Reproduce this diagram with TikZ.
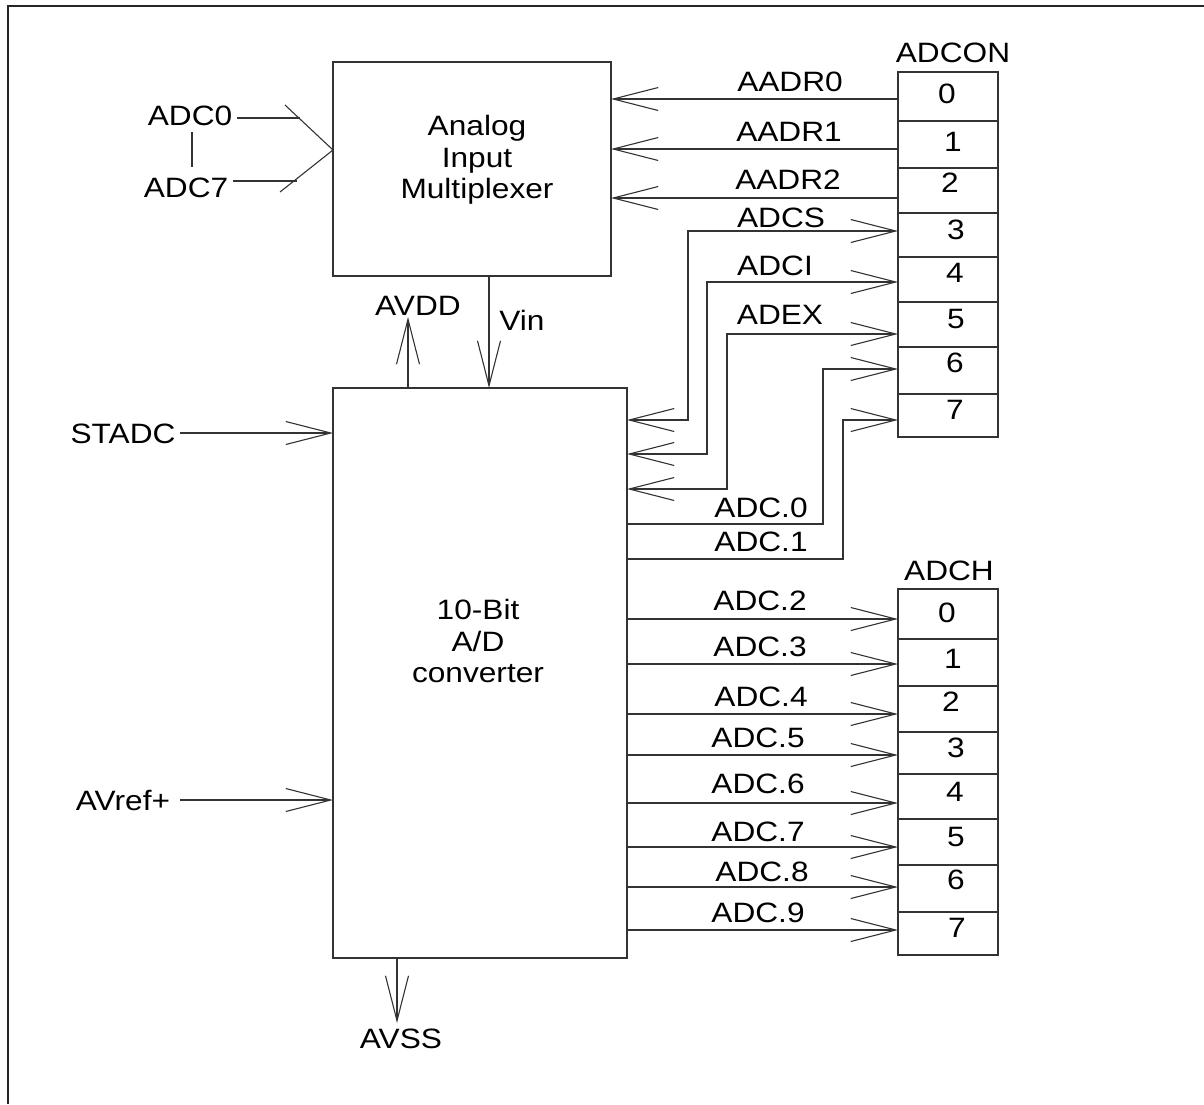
\documentclass[tikz,border=0pt]{standalone}
\usepackage{fontspec}
\setmainfont{Liberation Sans}[FakeStretch=1.13]
\usetikzlibrary{arrows.meta}

\begin{document}
\begin{tikzpicture}[
			x=1pt, y=-1pt,
			font=\fontsize{28}{31.5}\selectfont,
			every node/.style={inner sep=0pt, outer sep=0pt},
			block/.style={draw=black!80, line width=1.1pt},
			reg/.style={draw=black!80, line width=1.1pt, minimum width=100pt},
			lbl/.style={text height=20pt, text depth=0pt},
			wire/.style={draw=black!80, line width=1.1pt},
			arrow/.style={wire, -{Straight Barb[length=45pt, width=23pt]}},
			biarrow/.style={wire, {Straight Barb[length=45pt, width=23pt]}-{Straight Barb[length=45pt, width=23pt]}},
			frame/.style={draw=black!85, line width=1.6pt}
			]
			\useasboundingbox (0,0) rectangle (1204,1104);
			\draw[frame] (1204,6) -- (8,6) -- (8,1104);
			
			% blocks
			\node[block, minimum width=278pt, minimum height=214pt] (mux) at (472,169) {};
			\node[block, minimum width=294pt, minimum height=570pt] (adc) at (480,673) {};
			\node[align=center] (muxtxt) at (477,160) {Analog\\Input\\Multiplexer};
			\node[align=center] (adctxt) at (478,641) {10-Bit\\A/D\\converter};
			
			% registers
			\node[reg, minimum height=365pt] (adcon) at (948,254.5) {};
			\node[reg, minimum height=366pt] (adch) at (948,772) {};
			\node[lbl] (adconlbl) at (953,52) {ADCON};
			\node[lbl] (adchlbl) at (949,570) {ADCH};
			
			\foreach \y in {121,168,213,257,302,347,394}
				\draw[wire] (adcon.west |- 0,\y) -- (adcon.east |- 0,\y);
			\foreach \y in {639,686,732,774,819,865,912}
				\draw[wire] (adch.west |- 0,\y) -- (adch.east |- 0,\y);
			
			\foreach \d/\x/\y in {0/947/93, 1/953/141, 2/950/182, 3/956/229, 4/955/272, 5/956/318, 6/955/362, 7/955/409}
				\node[lbl] (conbit\d) at (\x,\y) {\d};
			\foreach \d/\x/\y in {0/947/612, 1/953/658, 2/951/701, 3/956/747, 4/955/791, 5/956/836, 6/956/879, 7/957/927}
				\node[lbl] (chbit\d) at (\x,\y) {\d};
			
			\foreach \b/\y in {0/99, 1/149, 2/198, 3/231, 4/282, 5/334, 6/369, 7/420}
				\coordinate (con\b) at (adcon.west |- 0,\y);
			\foreach \b/\y in {0/619, 1/664, 2/714, 3/755, 4/803, 5/847, 6/887, 7/930}
				\coordinate (ch\b) at (adch.west |- 0,\y);
			
			% mux select lines
			\node[lbl] (lblaadr0) at (790,81) {AADR0};
			\node[lbl] (lblaadr1) at (789,131) {AADR1};
			\node[lbl] (lblaadr2) at (788,179) {AADR2};
			\draw[arrow] (con0) -- (mux.east |- con0);
			\draw[arrow] (con1) -- (mux.east |- con1);
			\draw[arrow] (con2) -- (mux.east |- con2);
			
			% control bits
			\coordinate (cs) at (adc.east |- 0,420);
			\coordinate (ci) at (adc.east |- 0,454);
			\coordinate (ex) at (adc.east |- 0,489);
			\coordinate (d0) at (adc.east |- 0,524);
			\coordinate (d1) at (adc.east |- 0,559);
			\node[lbl] (lbladcs) at (781,217) {ADCS};
			\node[lbl] (lbladci) at (775,265) {ADCI};
			\node[lbl] (lbladex) at (780,314) {ADEX};
			\node[lbl] (lbladc0) at (761,507) {ADC.0};
			\node[lbl] (lbladc1) at (761,541) {ADC.1};
			\draw[biarrow] (cs) -| ([xshift=-210pt]con3) -- (con3);
			\draw[biarrow] (ci) -| ([xshift=-191pt]con4) -- (con4);
			\draw[biarrow] (ex) -| ([xshift=-171pt]con5) -- (con5);
			\draw[arrow] (d0) -| ([xshift=-75pt]con6) -- (con6);
			\draw[arrow] (d1) -| ([xshift=-55pt]con7) -- (con7);
			
			% result high byte
			\foreach \b/\n/\x/\y in {0/2/760/600, 1/3/760/646, 2/4/761/696, 3/5/758/737, 4/6/758/783, 5/7/758/831, 6/8/762/871, 7/9/758/912} {
				\node[lbl] (lbladc\n) at (\x,\y) {ADC.\n};
				\draw[arrow] (adc.east |- ch\b) -- (ch\b);
			}
			
			% analog inputs
			\node[lbl] (ain0) at (190,115) {ADC0};
			\node[lbl] (ain7) at (186,187) {ADC7};
			\coordinate (mxin) at (mux.west |- 0,150);
			\coordinate (w0) at (285,105);
			\coordinate (w7) at (280,192);
			\draw[wire] ([shift={(5,3)}]ain0.east) -- ++(63,0);
			\draw[wire] ([shift={(5,-6)}]ain7.east) -- ++(64,0);
			\draw[wire] (w0) -- (mxin) -- (w7);
			\draw[wire] ([shift={(2,7)}]ain0.south) -- ([shift={(6,-10)}]ain7.north);
			
			% supplies and start
			\node[lbl] (stadc) at (123,433) {STADC};
			\node[lbl] (avref) at (123,800) {AVref+};
			\node[lbl] (avdd) at (418,305) {AVDD};
			\node[lbl] (vin) at (522,320) {Vin};
			\node[lbl] (avss) at (401,1038) {AVSS};
			\coordinate (avddtip) at (408,317);
			\coordinate (avsstip) at (397,1023);
			\draw[arrow] ([xshift=5pt]stadc.east) -- (adc.west |- stadc);
			\draw[arrow] ([xshift=10pt]avref.east) -- (adc.west |- avref);
			\draw[arrow] (adc.north -| avddtip) -- (avddtip);
			\draw[arrow] (mux.south -| 489,0) -- (adc.north -| 489,0);
			\draw[arrow] (adc.south -| avsstip) -- (avsstip);
			
		\end{tikzpicture}
\end{document}
